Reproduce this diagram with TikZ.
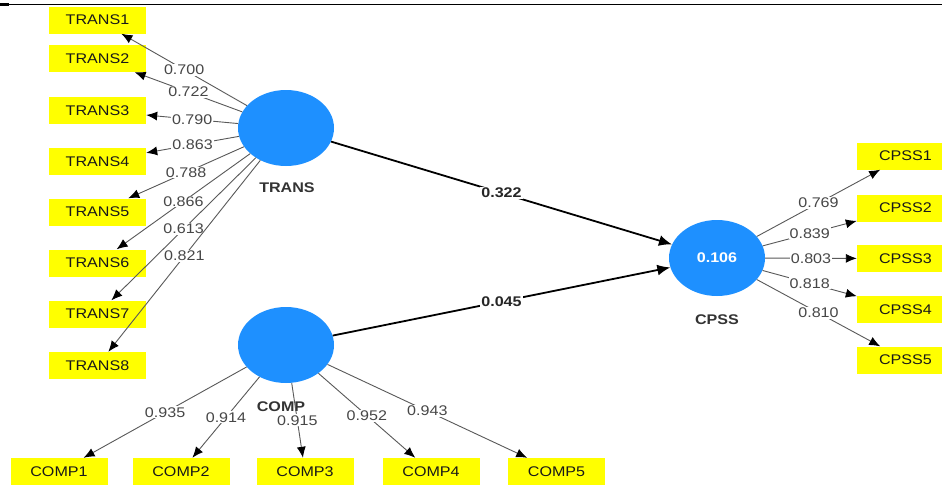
\documentclass[tikz,border=0pt]{standalone}
\usepackage{fontspec}
\setmainfont[FakeStretch=1.15]{Liberation Sans}
\usetikzlibrary{shapes.geometric,arrows.meta}
\definecolor{lvblue}{RGB}{30,144,255}
\definecolor{indyellow}{RGB}{255,255,0}
\begin{document}
\begin{tikzpicture}[x=1pt,y=-1pt,
  ind/.style={fill=indyellow,minimum width=97pt,minimum height=27pt,inner sep=0pt,font=\fontsize{14}{16}\selectfont,text=black!90},
  lv/.style={ellipse,fill=lvblue,minimum width=96pt,minimum height=76pt,inner sep=0pt},
  lvname/.style={font=\bfseries\fontsize{14}{16}\selectfont,text=black!80},
  loadarrow/.style={draw=black!65,line width=0.9pt,-{Latex[length=11pt,width=9pt,color=black]}},
  structpath/.style={draw=black,line width=1.8pt,-{Latex[length=13pt,width=11pt]}},
  lbl/.style={fill=white,inner sep=1pt,font=\fontsize{14}{16}\selectfont,text=black!72},
  plbl/.style={fill=white,inner sep=1pt,font=\bfseries\fontsize{14}{16}\selectfont,text=black!85}
]
\useasboundingbox (0,0) rectangle (942,485);
\fill[white] (0,0) rectangle (942,485);
% top rule
\coordinate (ruleL) at (0,4.5);
\coordinate (ruleR) at (942,4.5);
\coordinate (ruleM) at (9,4.5);
\draw[line width=1pt] (ruleL) -- (ruleR);
\draw[line width=2.4pt] (ruleL) -- (ruleM);

% latent variables
\node[lv] (trans) at (286,128) {};
\node[lvname] (transname) at (287,188) {TRANS};
\node[lv] (comp) at (286,345) {};
\node[lvname] (compname) at (281,407) {COMP};
\node[lv,font=\bfseries\fontsize{14}{16}\selectfont,text=white] (cpss) at (717,258) {0.106};
\node[lvname] (cpssname) at (717,320) {CPSS};

% TRANS indicators
\node[ind] (t1) at (97.5,20) {TRANS1};
\node[ind] (t2) at (97.5,58.5) {TRANS2};
\node[ind] (t3) at (97.5,110.5) {TRANS3};
\node[ind] (t4) at (97.5,161.5) {TRANS4};
\node[ind] (t5) at (97.5,212) {TRANS5};
\node[ind] (t6) at (97.5,263) {TRANS6};
\node[ind] (t7) at (97.5,314) {TRANS7};
\node[ind] (t8) at (97.5,365.5) {TRANS8};

% COMP indicators
\node[ind] (c1) at (59,471.5) {COMP1};
\node[ind] (c2) at (181,471.5) {COMP2};
\node[ind] (c3) at (305,471.5) {COMP3};
\node[ind] (c4) at (431,471.5) {COMP4};
\node[ind] (c5) at (556.5,471.5) {COMP5};

% CPSS indicators
\node[ind] (p1) at (905.5,156) {CPSS1};
\node[ind] (p2) at (905.5,208) {CPSS2};
\node[ind] (p3) at (905.5,258.5) {CPSS3};
\node[ind] (p4) at (905.5,309.5) {CPSS4};
\node[ind] (p5) at (905.5,360) {CPSS5};

% loadings
\draw[loadarrow] (trans) -- node[lbl]{0.700} (t1);
\draw[loadarrow] (trans) -- node[lbl]{0.722} (t2);
\draw[loadarrow] (trans) -- node[lbl]{0.790} (t3);
\draw[loadarrow] (trans) -- node[lbl]{0.863} (t4);
\draw[loadarrow] (trans) -- node[lbl]{0.788} (t5);
\draw[loadarrow] (trans) -- node[lbl]{0.866} (t6);
\draw[loadarrow] (trans) -- node[lbl]{0.613} (t7);
\draw[loadarrow] (trans) -- node[lbl]{0.821} (t8);

\draw[loadarrow] (comp) -- node[lbl]{0.935} (c1);
\draw[loadarrow] (comp) -- node[lbl]{0.914} (c2);
\draw[loadarrow] (comp) -- node[lbl]{0.915} (c3);
\draw[loadarrow] (comp) -- node[lbl]{0.952} (c4);
\draw[loadarrow] (comp) -- node[lbl]{0.943} (c5);

\draw[loadarrow] (cpss) -- node[lbl]{0.769} (p1);
\draw[loadarrow] (cpss) -- node[lbl]{0.839} (p2);
\draw[loadarrow] (cpss) -- node[lbl]{0.803} (p3);
\draw[loadarrow] (cpss) -- node[lbl]{0.818} (p4);
\draw[loadarrow] (cpss) -- node[lbl]{0.810} (p5);

% structural paths
\draw[structpath] (trans) -- node[plbl]{0.322} (cpss);
\draw[structpath] (comp) -- node[plbl]{0.045} (cpss);
\end{tikzpicture}
\end{document}
